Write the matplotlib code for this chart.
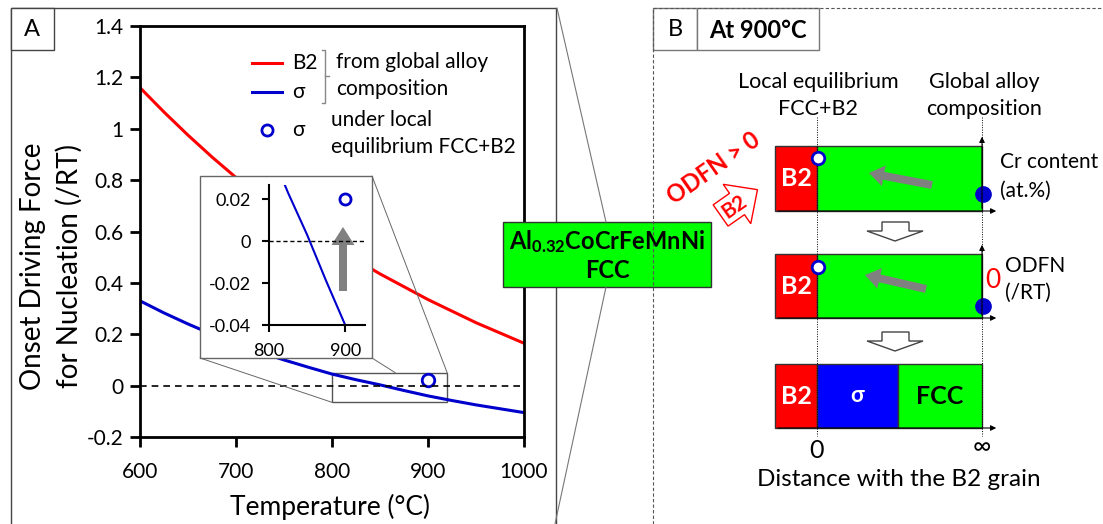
import numpy as np
import matplotlib.pyplot as plt
from matplotlib.patches import Rectangle, Polygon, FancyArrow, ConnectionPatch

plt.rcParams['font.family'] = ['Lato', 'DejaVu Sans']
plt.rcParams['mathtext.fontset'] = 'custom'
plt.rcParams['mathtext.bf'] = 'Lato:bold'
plt.rcParams['mathtext.rm'] = 'Lato'

# data
temps = [600, 625, 650, 675, 700, 725, 750, 775, 800, 825, 850, 875, 900, 925, 950, 975, 1000]
odfn_b2 = [1.16, 1.065, 0.975, 0.89, 0.81, 0.74, 0.67, 0.61, 0.55, 0.49, 0.435, 0.385,
           0.335, 0.29, 0.245, 0.205, 0.165]
odfn_sigma = [0.33, 0.283, 0.24, 0.20, 0.165, 0.13, 0.10, 0.072, 0.045, 0.023, 0.003,
              -0.019, -0.04, -0.058, -0.075, -0.09, -0.105]
local_T = [900]
local_sigma = [0.02]

xticks = [600, 700, 800, 900, 1000]
yticks = [-0.2, 0, 0.2, 0.4, 0.6, 0.8, 1.0, 1.2, 1.4]
ylabels = ['-0.2', '0', '0.2', '0.4', '0.6', '0.8', '1', '1.2', '1.4']
in_xticks = [800, 900]
in_yticks = [-0.04, -0.02, 0, 0.02]
in_ylabels = ['-0.04', '-0.02', '0', '0.02']

RED = '#ff0000'
BLUE = '#0000cc'
GREEN = '#00ff00'

W, H = 1103, 524
fig = plt.figure(figsize=(W / 100, H / 100), dpi=100)


def box(l, t, r, b):
    return [l / W, 1 - b / H, (r - l) / W, (b - t) / H]


# main plot
ax = fig.add_axes(box(140, 26, 524, 437))
ax.set_zorder(1)
ax.plot(temps, odfn_b2, color=RED, lw=2.2)
ax.plot(temps, odfn_sigma, color=BLUE, lw=2.2)
ax.plot(local_T, local_sigma, 'o', mfc='white', mec=BLUE, mew=2, ms=9)
ax.axhline(0, color='k', lw=1.2, dashes=(4, 3))
ax.add_patch(Rectangle((800, -0.065), 120, 0.115, fill=False, ec='#555555', lw=1))
ax.set_xlim(600, 1000)
ax.set_ylim(-0.2, 1.4)
ax.set_xticks(xticks)
ax.set_yticks(yticks)
ax.set_yticklabels(ylabels)
for s in ax.spines.values():
    s.set_linewidth(2)
ax.tick_params(direction='out', length=7, width=2, labelsize=15)
ax.tick_params(axis='x', pad=11)
ax.tick_params(axis='y', pad=5)

# overlay in pixel coordinates
ov = fig.add_axes([0, 0, 1, 1])
ov.set_zorder(2)
ov.patch.set_visible(False)
ov.set_xlim(0, W)
ov.set_ylim(H, 0)
ov.axis('off')

ov.text(33, 266, 'Onset Driving Force', rotation=90, ha='center', va='center', fontsize=20)
ov.text(69, 266, 'for Nucleation (/RT)', rotation=90, ha='center', va='center', fontsize=20)
ov.text(330, 507, 'Temperature (°C)', ha='center', va='center', fontsize=19)

# panel frames
ov.add_patch(Rectangle((11, 8), 545, 530, fill=False, ec='#444444', lw=1))
ov.add_patch(Rectangle((11, 8), 43, 42, fc='white', ec='#444444', lw=1))
ov.text(32, 29, 'A', ha='center', va='center', fontsize=17)
ov.plot([653, 653], [524, 8], color='#555555', lw=0.8, ls=(0, (3, 2)))
ov.plot([653, 1103], [8, 8], color='#555555', lw=0.8, ls=(0, (3, 2)))
ov.add_patch(Rectangle((653, 8), 44, 42, fc='white', ec='#777777', lw=1))
ov.add_patch(Rectangle((697, 8), 122, 42, fc='white', ec='#777777', lw=1))
ov.text(675, 30, 'B', ha='center', va='center', fontsize=17)
ov.text(758, 30, 'At 900°C', ha='center', va='center', fontsize=17, fontweight='bold')

# legend
ov.plot([252, 282], [63, 63], color=RED, lw=2.2)
ov.plot([252, 282], [92, 92], color=BLUE, lw=2.2)
ov.text(292, 63, 'B2', va='center', fontsize=15)
ov.text(292, 92, 'σ', va='center', fontsize=15)
ov.plot([322, 325, 325, 322], [50, 50, 103, 103], color='#888888', lw=1)
ov.plot([325, 329], [76, 76], color='#888888', lw=1)
ov.text(336, 62, 'from global alloy', va='center', fontsize=15)
ov.text(336, 89, 'composition', va='center', fontsize=15)
ov.plot([267], [130], 'o', mfc='white', mec=BLUE, mew=2, ms=8)
ov.text(292, 130, 'σ', va='center', fontsize=15)
ov.text(331, 120, 'under local', va='center', fontsize=15)
ov.text(331, 147, 'equilibrium FCC+B2', va='center', fontsize=15)

# inset box and connectors
ov.add_patch(Rectangle((200, 176), 172, 182, fc='white', ec='#666666', lw=1))
for a, b in [((200, 358), (800, -0.065)), ((372, 176), (920, 0.05)), ((372, 358), (866, 0.05))]:
    ov.add_artist(ConnectionPatch(a, b, coordsA=ov.transData, coordsB=ax.transData,
                                  color='#666666', lw=0.7))
ov.add_patch(FancyArrow(343, 291, 0, -64, width=8, head_width=23, head_length=18,
                        length_includes_head=True, color='#808080', lw=0))

# alloy box
ov.plot([557, 606], [8, 222], color='#777777', lw=0.8)
ov.plot([606, 555], [287, 524], color='#777777', lw=0.8)
ov.add_patch(Rectangle((503, 222), 208, 65, fc=GREEN, ec='#333333', lw=1))
ov.text(607, 242, r'$\mathbf{Al_{0.32}CoCrFeMnNi}$', ha='center', va='center', fontsize=17)
ov.text(607, 271, 'FCC', ha='center', va='center', fontsize=17, fontweight='bold')

# panel B schematic
x0, xz, xs, xi = 775, 817, 898, 982
rows = [(146, 211), (254, 318), (364, 428)]
ov.text(818, 82, 'Local equilibrium', ha='center', va='center', fontsize=15.5)
ov.text(818, 109, 'FCC+B2', ha='center', va='center', fontsize=15.5)
ov.text(984, 82, 'Global alloy', ha='center', va='center', fontsize=15.5)
ov.text(984, 109, 'composition', ha='center', va='center', fontsize=15.5)
ov.plot([xz, xz], [117, 436], color='k', lw=0.7, ls=(0, (1, 1.5)))
ov.plot([xi, xi], [117, 436], color='k', lw=0.7, ls=(0, (1, 1.5)))

for i, (t, b) in enumerate(rows):
    ov.add_patch(Rectangle((x0, t), xz - x0, b - t, fc=RED, ec='#333333', lw=1))
    if i < 2:
        ov.add_patch(Rectangle((xz, t), xi - xz, b - t, fc=GREEN, ec='#333333', lw=1))
        ov.annotate('', xy=(xi, t - 12), xytext=(xi, b),
                    arrowprops=dict(arrowstyle='-|>', color='k', lw=0.8, mutation_scale=8))
    else:
        ov.add_patch(Rectangle((xz, t), xs - xz, b - t, fc='#0000ff', ec='#333333', lw=1))
        ov.add_patch(Rectangle((xs, t), xi - xs, b - t, fc=GREEN, ec='#333333', lw=1))
        ov.text((xz + xs) / 2, (t + b) / 2, 'σ', color='white', ha='center', va='center',
                fontsize=16, fontweight='bold')
        ov.text((xs + xi) / 2, (t + b) / 2, 'FCC', color='k', ha='center', va='center',
                fontsize=18, fontweight='bold')
    ov.annotate('', xy=(999, b), xytext=(x0, b),
                arrowprops=dict(arrowstyle='-|>', color='k', lw=0.8, mutation_scale=8))
    ov.text((x0 + xz) / 2, (t + b) / 2, 'B2', color='white', ha='center', va='center',
            fontsize=18, fontweight='bold')

# circles and grey arrows in rows 1 and 2
ov.plot([818, 818], [158, 267], 'o', ls='none', mfc='white', mec=BLUE, mew=2, ms=9)
ov.plot([983, 983], [194, 306], 'o', ls='none', color=BLUE, ms=11)
ov.add_patch(FancyArrow(932, 185, -63, -12, width=8, head_width=21, head_length=15,
                        length_includes_head=True, color='#808080', lw=0))
ov.add_patch(FancyArrow(926, 289, -61, -14, width=8, head_width=21, head_length=15,
                        length_includes_head=True, color='#808080', lw=0))
ov.text(1000, 162, 'Cr content', va='center', fontsize=15)
ov.text(1000, 191, '(at.%)', va='center', fontsize=15)
ov.text(993, 280, '0', color=RED, ha='center', va='center', fontsize=19)
ov.text(1005, 266, 'ODFN', va='center', fontsize=15)
ov.text(1005, 293, '(/RT)', va='center', fontsize=15)

# hollow down arrows
for y in [222, 332]:
    pts = [(882, y), (909, y), (909, y + 9), (923, y + 9), (895, y + 19), (867, y + 9), (882, y + 9)]
    ov.add_patch(Polygon(pts, closed=True, fc='white', ec='#444444', lw=1))

# ODFN > 0 and red B2 arrow
ang = np.deg2rad(35)
ov.text(714, 168, 'ODFN > 0', rotation=35, color=RED, fontweight='bold', fontsize=17,
        ha='center', va='center', rotation_mode='anchor')
loc = np.array([(-20, -13), (0, -13), (0, -24), (25, 0), (0, 24), (0, 13), (-20, 13)])
rot = np.array([[np.cos(ang), -np.sin(ang)], [np.sin(ang), np.cos(ang)]])
rot = np.array([[np.cos(ang), -np.sin(ang)], [-np.sin(ang), -np.cos(ang)]])
pts = loc @ rot + np.array([737, 204])
ov.add_patch(Polygon(pts, closed=True, fc='white', ec=RED, lw=1))
ov.text(734, 207, 'B2', rotation=35, color=RED, fontweight='bold', fontsize=15,
        ha='center', va='center', rotation_mode='anchor')

ov.text(817, 450, '0', ha='center', va='center', fontsize=18)
ov.text(982, 447, '∞', ha='center', va='center', fontsize=18)
ov.text(899, 479, 'Distance with the B2 grain', ha='center', va='center', fontsize=17.5)

# inset
axi = fig.add_axes(box(269, 185, 365, 325))
axi.set_zorder(3)
axi.patch.set_visible(False)
axi.plot(temps, odfn_sigma, color=BLUE, lw=1.5)
axi.plot(local_T, local_sigma, 'o', mfc='white', mec=BLUE, mew=2, ms=8)
axi.axhline(0, color='k', lw=1, dashes=(3, 2))
axi.set_xlim(800, 926)
axi.set_ylim(-0.04, 0.0267)
axi.set_xticks(in_xticks)
axi.set_yticks(in_yticks)
axi.set_yticklabels(in_ylabels)
axi.spines['top'].set_visible(False)
axi.spines['right'].set_visible(False)
axi.spines['left'].set_linewidth(1.5)
axi.spines['bottom'].set_linewidth(1.5)
axi.tick_params(direction='out', length=5, width=1.5, labelsize=13, pad=8)

fig.savefig('out.png', dpi=100)
